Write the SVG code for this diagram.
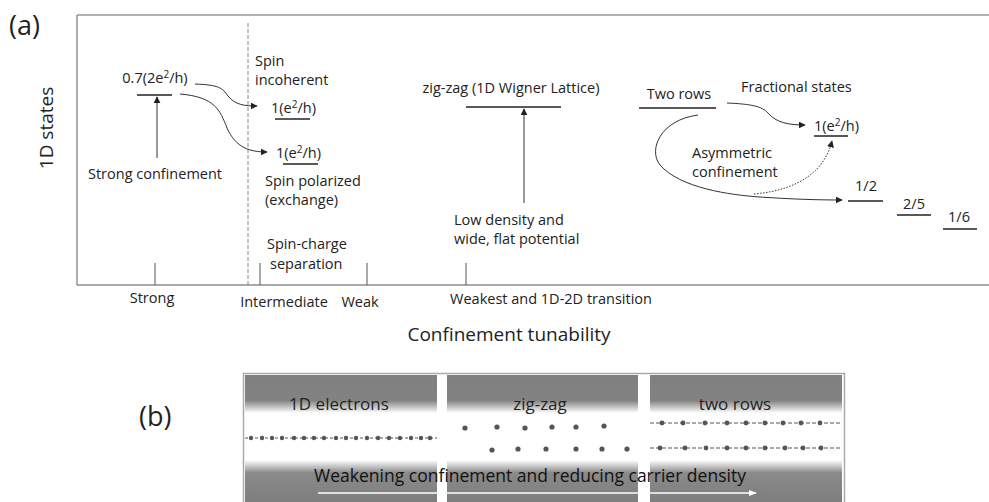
<svg xmlns="http://www.w3.org/2000/svg" width="989" height="502" viewBox="0 0 989 502">
<style>
text{font-family:"Open Sans","Liberation Sans",sans-serif;fill:#222}
.s{font-size:14.5px}
.sup{font-size:10px}
.lvl{stroke:#222;stroke-width:1.4}
.con{fill:none;stroke:#333;stroke-width:1}
.tick{stroke:#555;stroke-width:1}
.dot{fill:#555}
</style>
<defs>
<marker id="ah" viewBox="0 0 10 10" refX="9" refY="5" markerWidth="7" markerHeight="7" orient="auto" markerUnits="userSpaceOnUse"><path d="M0,0 L10,5 L0,10 z" fill="#222"/></marker>
<marker id="wah" viewBox="0 0 10 10" refX="9" refY="5" markerWidth="8" markerHeight="8" orient="auto" markerUnits="userSpaceOnUse"><path d="M0,1 L10,5 L0,9 z" fill="#fff"/></marker>
<linearGradient id="band" x1="0" y1="0" x2="0" y2="1">
<stop offset="0" stop-color="#808080"/>
<stop offset="0.2" stop-color="#828282"/>
<stop offset="0.3" stop-color="#fff"/>
<stop offset="0.67" stop-color="#fff"/>
<stop offset="0.77" stop-color="#8a8a8a"/>
<stop offset="1" stop-color="#7e7e7e"/>
</linearGradient>
</defs>
<rect width="989" height="502" fill="#fff"/>

<g id="frame-a">
<text x="9" y="35" style="font-size:27px">(a)</text>
<line x1="77" y1="15" x2="989" y2="15" stroke="#999" stroke-width="1.5"/>
<line x1="77" y1="15" x2="77" y2="285" stroke="#777" stroke-width="1.2"/>
<line x1="77" y1="285" x2="989" y2="285" stroke="#555" stroke-width="1.2"/>
<line x1="248" y1="23" x2="248" y2="285" stroke="#888" stroke-width="1" stroke-dasharray="4 2"/>
<text transform="translate(53,128) rotate(-90)" text-anchor="middle" style="font-size:19px">1D states</text>
<text x="509" y="341" text-anchor="middle" style="font-size:19px">Confinement tunability</text>
</g>

<g id="axis-ticks">
<line class="tick" x1="155" y1="263" x2="155" y2="285"/>
<line class="tick" x1="260" y1="263" x2="260" y2="285"/>
<line class="tick" x1="367" y1="263" x2="367" y2="285"/>
<line class="tick" x1="466" y1="263" x2="466" y2="285"/>
<text class="s" x="152" y="303" text-anchor="middle">Strong</text>
<text class="s" x="284" y="307" text-anchor="middle">Intermediate</text>
<text class="s" x="360" y="307" text-anchor="middle">Weak</text>
<text class="s" x="551" y="304" text-anchor="middle">Weakest and 1D-2D transition</text>
</g>

<g id="strong">
<text class="s" x="155" y="83" text-anchor="middle">0.7(2e<tspan class="sup" dy="-5">2</tspan><tspan dy="5">/h)</tspan></text>
<line class="lvl" x1="137" y1="95" x2="172" y2="95"/>
<text class="s" x="155" y="179" text-anchor="middle">Strong confinement</text>
</g>

<g id="spin-incoherent">
<text class="s" x="255" y="66">Spin</text>
<text class="s" x="255" y="85">incoherent</text>
<text class="s" x="271" y="113">1(e<tspan class="sup" dy="-5">2</tspan><tspan dy="5">/h)</tspan></text>
<line class="lvl" x1="275" y1="119" x2="310" y2="119"/>
</g>

<g id="spin-polarized">
<text class="s" x="276" y="158">1(e<tspan class="sup" dy="-5">2</tspan><tspan dy="5">/h)</tspan></text>
<line class="lvl" x1="283" y1="164" x2="318" y2="164"/>
<text class="s" x="265" y="186">Spin polarized</text>
<text class="s" x="265" y="205">(exchange)</text>
</g>

<g id="spin-charge">
<text class="s" x="267" y="249">Spin-charge</text>
<text class="s" x="270" y="269">separation</text>
</g>

<g id="zigzag">
<text class="s" x="511" y="93" text-anchor="middle">zig-zag (1D Wigner Lattice)</text>
<line class="lvl" x1="466" y1="107" x2="561" y2="107"/>
<text class="s" x="454" y="225">Low density and</text>
<text class="s" x="454" y="244">wide, flat potential</text>
</g>

<g id="two-rows">
<text class="s" x="679" y="99" text-anchor="middle">Two rows</text>
<line class="lvl" x1="639" y1="108" x2="716" y2="108"/>
<text class="s" x="741" y="92">Fractional states</text>
<text class="s" x="814" y="131">1(e<tspan class="sup" dy="-5">2</tspan><tspan dy="5">/h)</tspan></text>
<line class="lvl" x1="814" y1="136" x2="848" y2="136"/>
<text class="s" x="692" y="158">Asymmetric</text>
<text class="s" x="692" y="177">confinement</text>
</g>

<g id="fractions">
<text class="s" x="866" y="191" text-anchor="middle">1/2</text>
<line class="lvl" x1="848" y1="201" x2="883" y2="201"/>
<text class="s" x="914" y="209" text-anchor="middle">2/5</text>
<line class="lvl" x1="897" y1="215" x2="931" y2="215"/>
<text class="s" x="959" y="222" text-anchor="middle">1/6</text>
<line class="lvl" x1="943" y1="229" x2="977" y2="229"/>
</g>

<g id="connectors">
<line class="con" x1="157" y1="158" x2="157" y2="97" marker-end="url(#ah)"/>
<path class="con" d="M195,84 C220,85 222,88 228,96 C235,105 245,106 257,106" marker-end="url(#ah)"/>
<path class="con" d="M180,94 C215,97 220,110 227,128 C236,148 250,152 267,152" marker-end="url(#ah)"/>
<line class="con" x1="524" y1="203" x2="524" y2="109" marker-end="url(#ah)"/>
<path class="con" d="M727,103 C750,104 762,106 768,113 C776,123 790,125 805,125" marker-end="url(#ah)"/>
<path class="con" d="M698,115 C660,120 648,150 660,165 C680,188 730,195 760,197 C790,199 815,200 842,200" marker-end="url(#ah)"/>
<path class="con" d="M754,194 C800,190 825,170 832,141" stroke-dasharray="1.5 1.5" marker-end="url(#ah)"/>
</g>

<g id="panel-b">
<text x="139" y="426" style="font-size:27px">(b)</text>
<rect x="243.5" y="373.5" width="601" height="132" fill="#fff" stroke="#aaa" stroke-width="1.5"/>
<rect x="245" y="375" width="192" height="127" fill="url(#band)"/>
<rect x="447" y="375" width="191" height="127" fill="url(#band)"/>
<rect x="650" y="375" width="192" height="127" fill="url(#band)"/>
<text x="339" y="410" text-anchor="middle" style="font-size:17px">1D electrons</text>
<text x="540" y="410" text-anchor="middle" style="font-size:17px">zig-zag</text>
<text x="735" y="410" text-anchor="middle" style="font-size:17px">two rows</text>
</g>

<g id="electrons-1d">
<line x1="245" y1="438" x2="437" y2="438" stroke="#555" stroke-width="1" stroke-dasharray="3 2"/>
<g class="dot">
<circle cx="251" cy="438" r="2.2"/><circle cx="262" cy="438" r="2.2"/><circle cx="272" cy="438" r="2.2"/><circle cx="282" cy="438" r="2.2"/><circle cx="294" cy="438" r="2.2"/><circle cx="304" cy="438" r="2.2"/><circle cx="314" cy="438" r="2.2"/><circle cx="324" cy="438" r="2.2"/><circle cx="336" cy="438" r="2.2"/><circle cx="346" cy="438" r="2.2"/><circle cx="356" cy="438" r="2.2"/><circle cx="367" cy="438" r="2.2"/><circle cx="378" cy="438" r="2.2"/><circle cx="389" cy="438" r="2.2"/><circle cx="400" cy="438" r="2.2"/><circle cx="411" cy="438" r="2.2"/><circle cx="421" cy="438" r="2.2"/><circle cx="430" cy="438" r="2.2"/>
</g>
</g>

<g id="zigzag-dots" class="dot">
<circle cx="465" cy="428" r="2.6"/><circle cx="497" cy="427" r="2.6"/><circle cx="525" cy="428" r="2.6"/><circle cx="552" cy="427" r="2.6"/><circle cx="576" cy="427" r="2.6"/><circle cx="604" cy="426" r="2.6"/>
<circle cx="492" cy="450" r="2.6"/><circle cx="518" cy="449" r="2.6"/><circle cx="546" cy="449" r="2.6"/><circle cx="576" cy="449" r="2.6"/><circle cx="602" cy="449" r="2.6"/><circle cx="627" cy="449" r="2.6"/>
</g>

<g id="two-rows-dots">
<line x1="650" y1="423" x2="842" y2="423" stroke="#555" stroke-width="1" stroke-dasharray="4 2"/>
<line x1="650" y1="448" x2="842" y2="448" stroke="#555" stroke-width="1" stroke-dasharray="4 2"/>
<g class="dot">
<circle cx="662" cy="423" r="2.4"/><circle cx="683" cy="423" r="2.4"/><circle cx="705" cy="423" r="2.4"/><circle cx="727" cy="423" r="2.4"/><circle cx="746" cy="423" r="2.4"/><circle cx="765" cy="423" r="2.4"/><circle cx="783" cy="423" r="2.4"/><circle cx="801" cy="423" r="2.4"/><circle cx="820" cy="423" r="2.4"/>
<circle cx="660" cy="448" r="2.4"/><circle cx="685" cy="448" r="2.4"/><circle cx="706" cy="448" r="2.4"/><circle cx="727" cy="448" r="2.4"/><circle cx="746" cy="448" r="2.4"/><circle cx="765" cy="448" r="2.4"/><circle cx="785" cy="448" r="2.4"/><circle cx="803" cy="448" r="2.4"/><circle cx="821" cy="448" r="2.4"/>
</g>
</g>

<g id="trend">
<line x1="318" y1="493" x2="756" y2="493" stroke="#fff" stroke-width="1.5" marker-end="url(#wah)"/>
<text x="530" y="482" text-anchor="middle" style="font-size:17.5px;fill:#111">Weakening confinement and reducing carrier density</text>
</g>
</svg>
